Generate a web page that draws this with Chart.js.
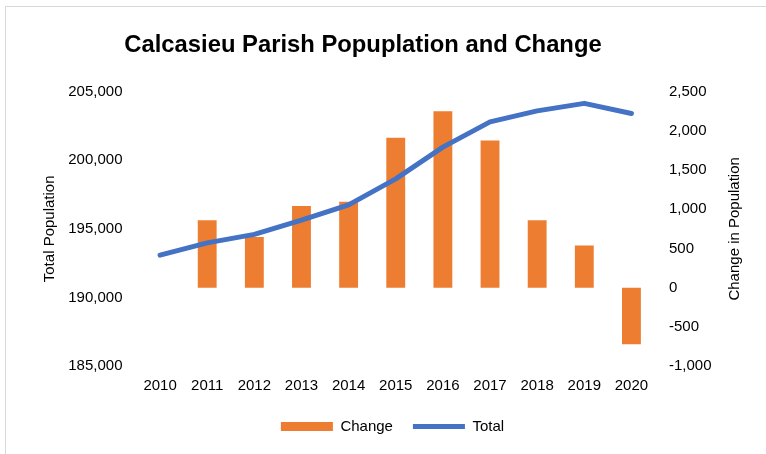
<!DOCTYPE html>
<html>
<head>
<meta charset="utf-8">
<script src="https://cdn.jsdelivr.net/npm/chart.js@4/dist/chart.umd.min.js"></script>
<style>
  body { margin: 0; background: #fff; overflow: hidden; }
  #wrap { position: relative; width: 766px; height: 454px; }
  #frame { position: absolute; left: 5px; top: 6px; width: 800px; height: 500px; border: 1px solid #d9d9d9; }
  canvas { position: absolute; left: 0; top: 0; }
</style>
</head>
<body>
<div id="wrap">
  <div id="frame"></div>
  <canvas id="graphique" width="766" height="454"></canvas>
</div>
<script>
// years on the x axis
const years = ['2010', '2011', '2012', '2013', '2014', '2015', '2016', '2017', '2018', '2019', '2020'];
// total population (left axis)
const totalPop = [193080, 193980, 194600, 195630, 196750, 198640, 200960, 202800, 203600, 204150, 203410];
// yearly change (right axis)
const changePop = [null, 861, 647, 1041, 1096, 1911, 2249, 1877, 861, 536, -724];

const chartTitle = 'Calcasieu Parish Popuplation and Change';
const rightTitle = 'Change in Population';

const FONT = '"Liberation Sans", Arial, sans-serif';
Chart.defaults.font.family = FONT;
Chart.defaults.color = '#000';

const fmt = v => v.toLocaleString('en-US');

// title sits a bit left of centre, right axis title reads bottom-to-top
const titlesPlugin = {
    id: 'titles',
    afterDraw(chart) {
        const a = chart.chartArea;
        const c = chart.ctx;
        c.save();
        c.fillStyle = '#000';
        c.textAlign = 'center';
        c.textBaseline = 'middle';
        c.font = 'bold 23.8px ' + FONT;
        c.fillText(chartTitle, 363, 45);
        c.translate(735, (a.top + a.bottom) / 2);
        c.rotate(-Math.PI / 2);
        c.font = '15px ' + FONT;
        c.fillText(rightTitle, 0, 0);
        c.restore();
    }
};

var ctx = document.getElementById('graphique').getContext('2d');
var myChart = new Chart(ctx, {
    type: 'bar',
    data: {
        labels: years,
        datasets: [{
            type: 'bar',
            label: 'Change',
            data: changePop,
            yAxisID: 'y1',
            backgroundColor: '#ED7D31',
            borderWidth: 0,
            barPercentage: 0.4,
            categoryPercentage: 1,
            pointStyle: 'rect',
            order: 1
        }, {
            type: 'line',
            label: 'Total',
            data: totalPop,
            yAxisID: 'y',
            borderColor: '#4472C4',
            backgroundColor: '#4472C4',
            borderWidth: 5,
            borderCapStyle: 'round',
            borderJoinStyle: 'round',
            pointRadius: 0,
            pointStyle: 'line',
            tension: 0,
            order: 0
        }]
    },
    options: {
        responsive: false,
        animation: false,
        layout: { padding: { left: 37, right: 18, top: 91.7, bottom: 10 } },
        plugins: {
            title: { display: false },
            legend: {
                position: 'bottom',
                labels: {
                    usePointStyle: true,
                    pointStyleWidth: 52,
                    boxHeight: 9,
                    font: { size: 15 },
                    padding: 20,
                    sort: (a, b) => a.datasetIndex - b.datasetIndex
                }
            },
            tooltip: { enabled: false }
        },
        scales: {
            x: {
                grid: { display: false, drawTicks: false },
                border: { display: false },
                ticks: { font: { size: 15 }, padding: 11, maxRotation: 0 },
                afterFit: s => { s.height = 33; }
            },
            y: {
                position: 'left',
                min: 185000,
                max: 205000,
                grid: { display: false, drawTicks: false },
                border: { display: false },
                ticks: { stepSize: 5000, font: { size: 15 }, padding: 14, callback: v => fmt(v) },
                title: { display: true, text: 'Total Population', font: { size: 15 } },
                afterFit: s => { s.width = 99.5; }
            },
            y1: {
                position: 'right',
                min: -1000,
                max: 2500,
                grid: { display: false, drawTicks: false },
                border: { display: false },
                ticks: { stepSize: 500, font: { size: 15 }, padding: 14, callback: v => fmt(v) },
                afterFit: s => { s.width = 93; }
            }
        }
    },
    plugins: [titlesPlugin]
});
</script>
</body>
</html>
